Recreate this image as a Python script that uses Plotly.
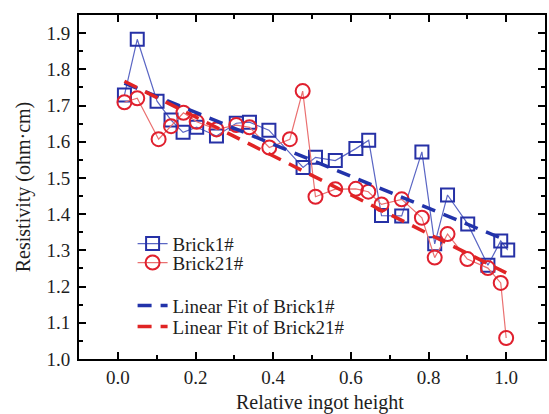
import plotly.graph_objects as go

# Brick1# data
b1_x = [0.017, 0.050, 0.101, 0.137, 0.168, 0.203, 0.254, 0.305, 0.339, 0.389, 0.477, 0.509,
        0.560, 0.613, 0.646, 0.679, 0.731, 0.783, 0.816, 0.849, 0.901, 0.953, 0.986, 1.004]
b1_y = [1.729, 1.883, 1.712, 1.660, 1.626, 1.640, 1.616, 1.651, 1.654, 1.632, 1.529, 1.557,
        1.548, 1.581, 1.604, 1.396, 1.395, 1.572, 1.318, 1.453, 1.373, 1.259, 1.326, 1.301]

# Brick21# data
b21_x = [0.017, 0.050, 0.105, 0.137, 0.169, 0.203, 0.254, 0.305, 0.339, 0.390, 0.443, 0.476,
         0.509, 0.560, 0.613, 0.645, 0.679, 0.731, 0.783, 0.816, 0.849, 0.900, 0.953, 0.986, 1.000]
b21_y = [1.709, 1.720, 1.607, 1.643, 1.680, 1.655, 1.634, 1.646, 1.640, 1.584, 1.607, 1.740,
         1.448, 1.469, 1.470, 1.462, 1.427, 1.441, 1.390, 1.280, 1.345, 1.276, 1.251, 1.210, 1.058]

# Linear fit end points
fit1_x = [0.017, 1.0]
fit1_y = [1.762, 1.328]
fit21_x = [0.017, 1.0]
fit21_y = [1.767, 1.238]

x_ticks = [0.0, 0.2, 0.4, 0.6, 0.8, 1.0]
y_ticks = [1.0, 1.1, 1.2, 1.3, 1.4, 1.5, 1.6, 1.7, 1.8, 1.9]

FONT = "Liberation Serif"
TXT = "#1e1e1e"
BLUE_M = "#2631a6"
BLUE_L = "#5a66c4"
RED_M = "#e0202e"
RED_L = "#ea7070"

fig = go.Figure()
fig.add_trace(go.Scatter(
    x=b1_x, y=b1_y, name="Brick1#", mode="lines+markers", legend="legend",
    line=dict(color=BLUE_L, width=1.2),
    marker=dict(symbol="square-open", size=13, color=BLUE_M, line=dict(width=2, color=BLUE_M)),
))
fig.add_trace(go.Scatter(
    x=b21_x, y=b21_y, name="Brick21#", mode="lines+markers", legend="legend2",
    line=dict(color=RED_L, width=1.2),
    marker=dict(symbol="circle-open", size=14, color=RED_M, line=dict(width=2, color=RED_M)),
))
fig.add_trace(go.Scatter(
    x=fit1_x, y=fit1_y, name="Linear Fit of Brick1#", mode="lines", legend="legend3",
    line=dict(color="#2233aa", width=3.5, dash="14px,9px"),
))
fig.add_trace(go.Scatter(
    x=fit21_x, y=fit21_y, name="Linear Fit of Brick21#", mode="lines", legend="legend4",
    line=dict(color="#e02424", width=3.5, dash="14px,9px"),
))

axis_common = dict(
    showline=True, linecolor="black", linewidth=2, mirror="allticks",
    ticks="inside", ticklen=7, tickwidth=2, tickcolor="black",
    showgrid=False, zeroline=False,
    tickfont=dict(family=FONT, size=19, color=TXT),
)

fig.update_xaxes(
    range=[-0.1, 1.1], tickvals=x_ticks, ticktext=[f"{v:.1f}" for v in x_ticks],
    minor=dict(ticks="inside", ticklen=4, tickwidth=2, tickcolor="black", dtick=0.1, tick0=0),
    **axis_common,
)
fig.update_yaxes(
    range=[1.0, 1.95], tickvals=y_ticks, ticktext=[f"{v:.1f}" for v in y_ticks],
    minor=dict(ticks="inside", ticklen=4, tickwidth=2, tickcolor="black", dtick=0.05, tick0=1.0),
    title=dict(text="Resistivity (ohm·cm)", font=dict(family=FONT, size=20, color=TXT), standoff=10),
    ticklabelstandoff=3,
    **axis_common,
)

fig.add_annotation(
    text="Relative ingot height", xref="paper", yref="paper",
    x=0.5165, y=-0.127, xanchor="center", yanchor="middle", showarrow=False,
    font=dict(family=FONT, size=20, color=TXT),
)

leg_x = 0.115
leg_common = dict(
    x=leg_x, xanchor="left", yanchor="middle",
    bgcolor="rgba(0,0,0,0)", borderwidth=0,
    font=dict(family=FONT, size=19, color=TXT), itemwidth=30,
)

fig.update_layout(
    width=549, height=414,
    margin=dict(l=79, r=2, t=15, b=55),
    paper_bgcolor="white", plot_bgcolor="white",
    showlegend=True,
    legend=dict(y=0.335, **leg_common),
    legend2=dict(y=0.280, **leg_common),
    legend3=dict(y=0.155, **leg_common),
    legend4=dict(y=0.094, **leg_common),
)

fig.write_html("out.html")
